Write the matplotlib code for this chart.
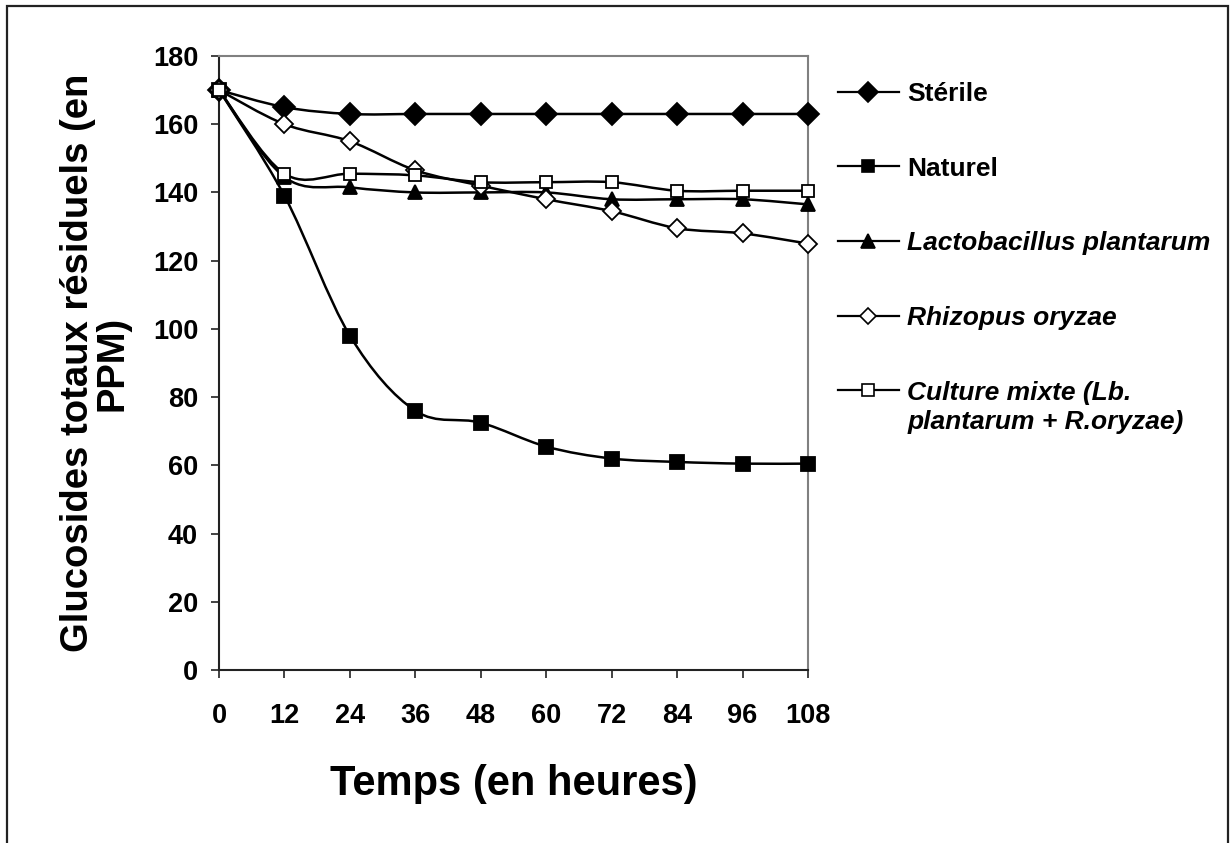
import matplotlib.pyplot as plt
from matplotlib.path import Path
from matplotlib.patches import PathPatch, Rectangle
from matplotlib.lines import Line2D

plt.rcParams['font.family'] = ['Liberation Sans', 'DejaVu Sans']
plt.rcParams['font.weight'] = 'bold'

# data
temps = [0, 12, 24, 36, 48, 60, 72, 84, 96, 108]
sterile = [170, 165, 163, 163, 163, 163, 163, 163, 163, 163]
naturel = [170, 139, 98, 76, 72.5, 65.5, 62, 61, 60.5, 60.5]
lacto = [170, 144.5, 141.5, 140, 140, 140, 138, 138, 138, 136.5]
rhizopus = [170, 160, 155, 146.5, 142, 138, 134.5, 129.5, 128, 125]
mixte = [170, 145.5, 145.5, 145, 143, 143, 143, 140.5, 140.5, 140.5]

labels = ['Stérile', 'Naturel', 'Lactobacillus plantarum', 'Rhizopus oryzae',
          'Culture mixte (Lb.']
label_suite = 'plantarum + R.oryzae)'
series = [sterile, naturel, lacto, rhizopus, mixte]
markers = ['D', 's', '^', 'D', 's']
fills = ['black', 'black', 'black', 'white', 'white']
sizes = [11, 10, 10.5, 9, 9]
italic = [False, False, True, True, True]


def smooth_path(xs, ys):
    # excel style smoothed line: bezier segments between the points
    n = len(xs)
    verts = [(xs[0], ys[0])]
    codes = [Path.MOVETO]
    for i in range(n - 1):
        a = i - 1 if i > 0 else i
        b = i + 2 if i + 2 < n else i + 1
        c1 = (xs[i] + (xs[i + 1] - xs[a]) / 6, ys[i] + (ys[i + 1] - ys[a]) / 6)
        c2 = (xs[i + 1] - (xs[b] - xs[i]) / 6, ys[i + 1] - (ys[b] - ys[i]) / 6)
        verts += [c1, c2, (xs[i + 1], ys[i + 1])]
        codes += [Path.CURVE4] * 3
    return Path(verts, codes)


fig = plt.figure(figsize=(12.32, 8.43), dpi=100)
ax = fig.add_axes([0.1778, 0.2052, 0.4780, 0.7284])

# outer frame of the picture
fig.patches.append(Rectangle((7 / 1232, -0.05), 1221 / 1232, 0.05 + 837 / 843,
                             transform=fig.transFigure, fill=False,
                             edgecolor='#222222', linewidth=1.6))

handles = []
for y, m, fc, ms in zip(series, markers, fills, sizes):
    ax.add_patch(PathPatch(smooth_path(temps, y), fill=False, edgecolor='black',
                           linewidth=1.8, zorder=2))
    ax.plot(temps, y, linestyle='none', marker=m, markersize=ms,
            markerfacecolor=fc, markeredgecolor='black', markeredgewidth=1.3,
            clip_on=False, zorder=3)
    handles.append(Line2D([], [], color='black', linewidth=1.6, marker=m,
                          markersize=ms * 0.9, markerfacecolor=fc,
                          markeredgecolor='black', markeredgewidth=1.2))

ax.set_xlim(0, 108)
ax.set_ylim(0, 180)
ax.set_xticks(temps)
ax.set_yticks(range(0, 181, 20))
ax.tick_params(direction='out', length=6, width=1.2, labelsize=19.5, color='#222222')
ax.tick_params(axis='x', pad=18)
ax.tick_params(axis='y', pad=9)

for s in ['left', 'bottom']:
    ax.spines[s].set_color('#222222')
    ax.spines[s].set_linewidth(1.5)
for s in ['top', 'right']:
    ax.spines[s].set_color('#808080')
    ax.spines[s].set_linewidth(1.5)

ax.set_xlabel('Temps (en heures)', fontsize=30, fontweight='bold', labelpad=25)
ax.set_ylabel('Glucosides totaux résiduels (en\nPPM)', fontsize=27.5,
              fontweight='bold', labelpad=16, linespacing=0.95)

leg = ax.legend(handles, labels, loc='upper left', bbox_to_anchor=(838 / 1232, 1 - 82 / 843),
                bbox_transform=fig.transFigure, frameon=False, fontsize=19,
                handlelength=2.3, handletextpad=0.33, labelspacing=1.92,
                borderpad=0, borderaxespad=0)
for t, it in zip(leg.get_texts(), italic):
    t.set_fontweight('bold')
    if it:
        t.set_fontstyle('italic')

# second line of the last legend label, under the first one
ax.annotate(label_suite, xy=(0, 0.5), xycoords=leg.get_texts()[-1],
            xytext=(0, -21), textcoords='offset points', va='center', ha='left',
            fontsize=19, fontweight='bold', fontstyle='italic', zorder=10)

fig.savefig('out.png', dpi=100)
